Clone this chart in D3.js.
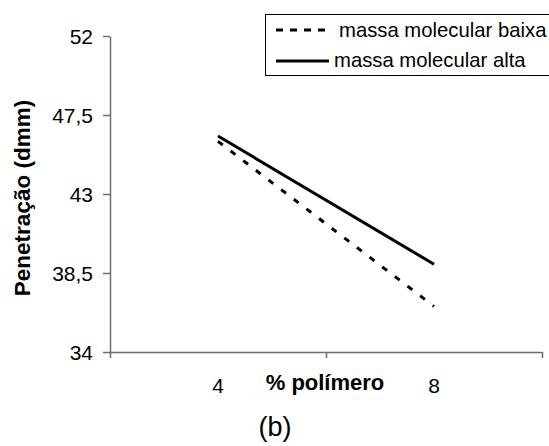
<!DOCTYPE html>
<html>
<head>
<meta charset="utf-8">
<script src="https://cdn.jsdelivr.net/npm/d3@7"></script>
<style>
  body { margin: 0; background: #fff; }
  svg text { font-family: "Liberation Sans", Arial, sans-serif; fill: #000; }
</style>
</head>
<body>
<div id="chart"></div>
<script>
// data
var categories = ["4", "8"];
var baixa = [46.0, 36.6];   // massa molecular baixa (dashed)
var alta = [46.3, 39.0];    // massa molecular alta (solid)
var seriesNames = ["massa molecular baixa", "massa molecular alta"];
var yTicks = [34, 38.5, 43, 47.5, 52];

var W = 549, H = 446;
var plotLeft = 110, plotRight = 542, plotTop = 36, plotBottom = 352;

var svg = d3.select("#chart").append("svg")
  .attr("width", W).attr("height", H);

var x = d3.scaleBand().domain(categories).range([plotLeft, plotRight]).padding(0);
var xEdge = d3.scaleLinear().domain([0, categories.length]).range([plotLeft, plotRight]);
var y = d3.scaleLinear().domain([34, 52]).range([plotBottom, plotTop]);

var fmt = function(d){ return String(d).replace(".", ","); };

// y axis
var yAxis = svg.append("g")
  .attr("transform", "translate(" + plotLeft + ",0)")
  .call(d3.axisLeft(y).tickValues(yTicks).tickFormat(fmt).tickSize(7).tickPadding(10).tickSizeOuter(0));
yAxis.select(".domain").attr("stroke", "#6e6e6e").attr("stroke-width", 1.5);
yAxis.selectAll(".tick line").attr("stroke", "#6e6e6e").attr("stroke-width", 1.5);
yAxis.selectAll(".tick text").attr("font-size", 21).attr("font-family", null).attr("dy", "0.36em");

// x axis: ticks between categories
var xAxisEdges = svg.append("g")
  .attr("transform", "translate(0," + plotBottom + ")")
  .call(d3.axisBottom(xEdge).tickValues(d3.range(categories.length + 1)).tickFormat("").tickSize(6).tickSizeOuter(0));
xAxisEdges.select(".domain").attr("stroke", "#6e6e6e").attr("stroke-width", 1.5);
xAxisEdges.selectAll(".tick line").attr("stroke", "#6e6e6e").attr("stroke-width", 1.5);

// category labels
var xAxisLabels = svg.append("g")
  .attr("transform", "translate(0," + plotBottom + ")")
  .call(d3.axisBottom(x).tickSize(0).tickPadding(26));
xAxisLabels.select(".domain").remove();
xAxisLabels.selectAll(".tick text").attr("font-size", 21).attr("font-family", null);

// axis titles
svg.append("text")
  .attr("x", 325).attr("y", 390)
  .attr("text-anchor", "middle")
  .attr("font-size", 22).attr("font-weight", "bold")
  .text("% polímero");

svg.append("text")
  .attr("transform", "translate(30,198) rotate(-90)")
  .attr("text-anchor", "middle")
  .attr("font-size", 22.5).attr("font-weight", "bold")
  .text("Penetração (dmm)");

svg.append("text")
  .attr("x", 275).attr("y", 436)
  .attr("text-anchor", "middle")
  .attr("font-size", 27)
  .text("(b)");

// lines
var line = d3.line()
  .x(function(d, i){ return x(categories[i]) + x.bandwidth() / 2; })
  .y(function(d){ return y(d); });

svg.append("path")
  .datum(baixa)
  .attr("d", line)
  .attr("fill", "none")
  .attr("stroke", "#000")
  .attr("stroke-width", 3)
  .attr("stroke-dasharray", "6,9.9");

svg.append("path")
  .datum(alta)
  .attr("d", line)
  .attr("fill", "none")
  .attr("stroke", "#000")
  .attr("stroke-width", 3);

// legend
var legend = svg.append("g");
legend.append("rect")
  .attr("x", 265.5).attr("y", 14.5)
  .attr("width", 300).attr("height", 61)
  .attr("fill", "#fff").attr("stroke", "#000").attr("stroke-width", 1);

legend.append("line")
  .attr("x1", 276).attr("x2", 327).attr("y1", 30).attr("y2", 30)
  .attr("stroke", "#000").attr("stroke-width", 3).attr("stroke-dasharray", "7,7");
legend.append("text")
  .attr("x", 339).attr("y", 37)
  .attr("font-size", 20.3)
  .text(seriesNames[0]);

legend.append("line")
  .attr("x1", 276).attr("x2", 329).attr("y1", 61).attr("y2", 61)
  .attr("stroke", "#000").attr("stroke-width", 3);
legend.append("text")
  .attr("x", 334).attr("y", 67)
  .attr("font-size", 20.3)
  .text(seriesNames[1]);
</script>
</body>
</html>
